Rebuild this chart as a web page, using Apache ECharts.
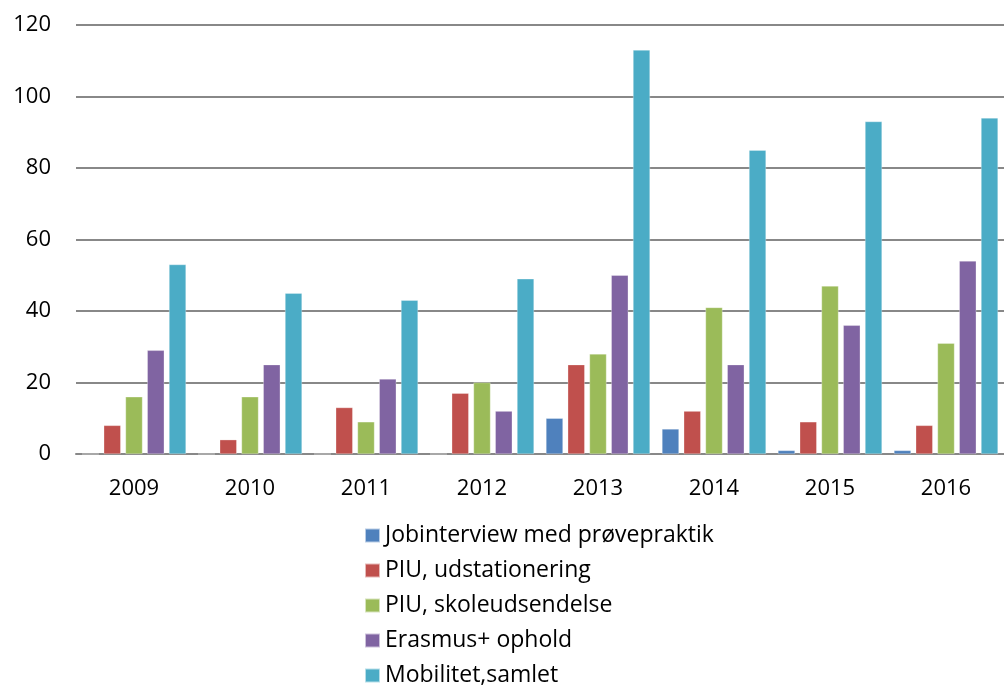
<!DOCTYPE html>
<html>
<head>
<meta charset="utf-8">
<script src="https://cdn.jsdelivr.net/npm/echarts@6/dist/echarts.min.js"></script>
<style>
html,body{margin:0;padding:0;background:#fff;}
#chart{width:1004px;height:686px;}
</style>
</head>
<body>
<div id="chart"></div>
<script>
const categories = ['2009','2010','2011','2012','2013','2014','2015','2016'];
const seriesNames = ['Jobinterview med prøvepraktik','PIU, udstationering','PIU, skoleudsendelse','Erasmus+ ophold','Mobilitet,samlet'];
const jobinterview = [0,0,0,0,10,7,1,1];
const piuUdstationering = [8,4,13,17,25,12,9,8];
const piuSkoleudsendelse = [16,16,9,20,28,41,47,31];
const erasmus = [29,25,21,12,50,25,36,54];
const mobilitet = [53,45,43,49,113,85,93,94];
const colors = ['#4F81BD','#C0504D','#9BBB59','#8064A2','#4BACC6'];

const dataSets = [jobinterview, piuUdstationering, piuSkoleudsendelse, erasmus, mobilitet];
const font = '"Open Sans", Lato, sans-serif';

const chart = echarts.init(document.getElementById('chart'));
chart.setOption({
  animation: false,
  backgroundColor: '#fff',
  color: colors,
  grid: {left: 76, right: -7, top: 25, bottom: 232, containLabel: false},
  xAxis: {
    type: 'category',
    data: categories,
    axisLine: {show: true, lineStyle: {color: '#888', width: 2}},
    axisTick: {show: false},
    axisLabel: {color: '#000', fontSize: 22, fontFamily: font, margin: 24}
  },
  yAxis: {
    type: 'value',
    min: 0, max: 120, interval: 20,
    axisLine: {show: false},
    axisTick: {show: false},
    splitLine: {lineStyle: {color: '#888', width: 2}},
    axisLabel: {color: '#000', fontSize: 22, fontFamily: font, margin: 25}
  },
  legend: {
    orient: 'vertical',
    left: 359, top: 519, height: 200,
    icon: 'rect',
    itemWidth: 15, itemHeight: 14,
    itemGap: 12,
    textStyle: {color: '#000', fontSize: 23, fontFamily: font, lineHeight: 23},
    data: seriesNames
  },
  series: seriesNames.map((n, i) => ({
    name: n,
    type: 'bar',
    data: dataSets[i],
    barWidth: 17,
    barGap: '28%',
    itemStyle: {color: colors[i], borderColor: 'rgba(255,255,255,0.6)', borderWidth: 0.5}
  }))
});
</script>
</body>
</html>
